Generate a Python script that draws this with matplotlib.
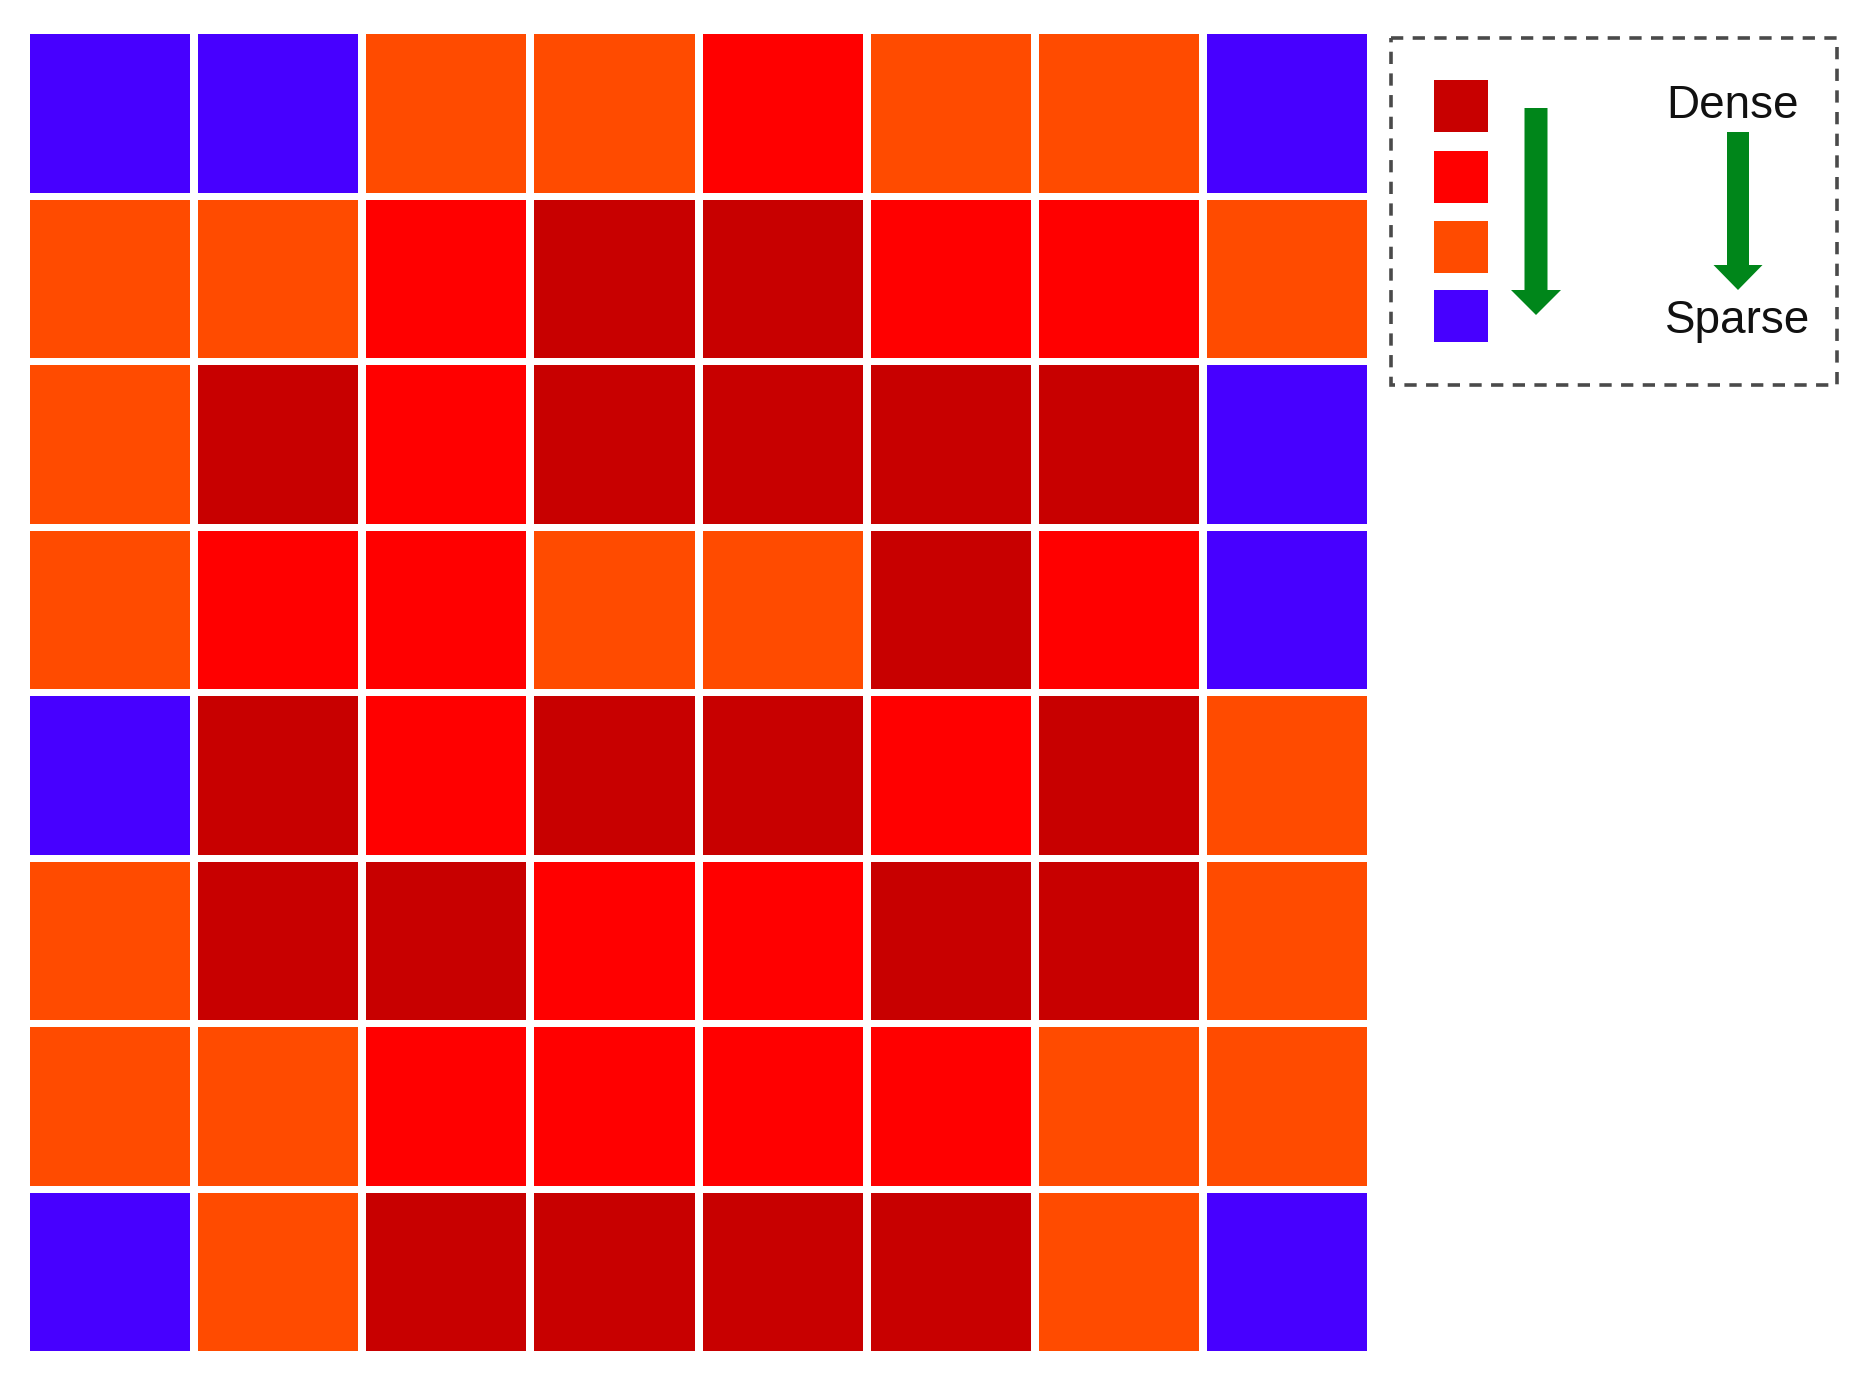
import matplotlib as mpl
mpl.use('Agg')

import matplotlib.pyplot as plt
import matplotlib.patches as patches
import numpy as np

# density level per cell: 3 = densest ... 0 = sparsest (top row first)
levels = [
    [0, 0, 1, 1, 2, 1, 1, 0],
    [1, 1, 2, 3, 3, 2, 2, 1],
    [1, 3, 2, 3, 3, 3, 3, 0],
    [1, 2, 2, 1, 1, 3, 2, 0],
    [0, 3, 2, 3, 3, 2, 3, 1],
    [1, 3, 3, 2, 2, 3, 3, 1],
    [1, 1, 2, 2, 2, 2, 1, 1],
    [0, 1, 3, 3, 3, 3, 1, 0],
]
level_colors = ['#4700ff', '#ff4b00', '#ff0000', '#c80000']
legend_order = [3, 2, 1, 0]
legend_labels = ['Dense', 'Sparse']

W, H = 1875, 1378
fig = plt.figure(figsize=(W / 100, H / 100), dpi=100)

# grid axes in figure pixels: x 30..1367, y 34..1351
gx0, gx1, gy0, gy1 = 30, 1367, 34, 1351
ax = fig.add_axes([gx0 / W, 1 - gy1 / H, (gx1 - gx0) / W, (gy1 - gy0) / H])
grid = np.array(levels)
nrows, ncols = grid.shape
cw = 1 - 8 / ((gx1 - gx0 + 8) / ncols)   # cell width as fraction of pitch
ch = 1 - 7 / ((gy1 - gy0 + 7) / nrows)
for r in range(nrows):
    for c in range(ncols):
        ax.add_patch(patches.Rectangle((c, r), cw, ch, facecolor=level_colors[grid[r, c]],
                                       edgecolor='none'))
ax.set_xlim(0, ncols - 1 + cw)
ax.set_ylim(nrows - 1 + ch, 0)
ax.axis('off')

# legend overlay in pixel coordinates
lg = fig.add_axes([0, 0, 1, 1])
lg.set_xlim(0, W)
lg.set_ylim(H, 0)
lg.axis('off')

lg.add_patch(patches.Rectangle((1391, 38), 446, 347, fill=False, edgecolor='#4a4a4a',
                               linewidth=2.6, linestyle=(0, (3.4, 2.6))))

sq_tops = [80, 151, 221, 290]
for top, lvl in zip(sq_tops, legend_order):
    lg.add_patch(patches.Rectangle((1434, top), 54, 52, facecolor=level_colors[lvl],
                                   edgecolor='none'))

green = '#00861a'
lg.add_patch(patches.FancyArrow(1536, 108, 0, 207, width=23, head_width=50, head_length=25,
                                length_includes_head=True, color=green, linewidth=0))
lg.add_patch(patches.FancyArrow(1738, 132, 0, 158, width=22, head_width=49, head_length=25,
                                length_includes_head=True, color=green, linewidth=0))

lg.text(1732, 106, legend_labels[0], fontsize=33, family='Liberation Sans',
        ha='center', va='center', color='#111111')
lg.text(1738, 321, legend_labels[1], fontsize=33, family='Liberation Sans',
        ha='center', va='center', color='#111111')

fig.savefig('out.png', dpi=100, facecolor='white')
